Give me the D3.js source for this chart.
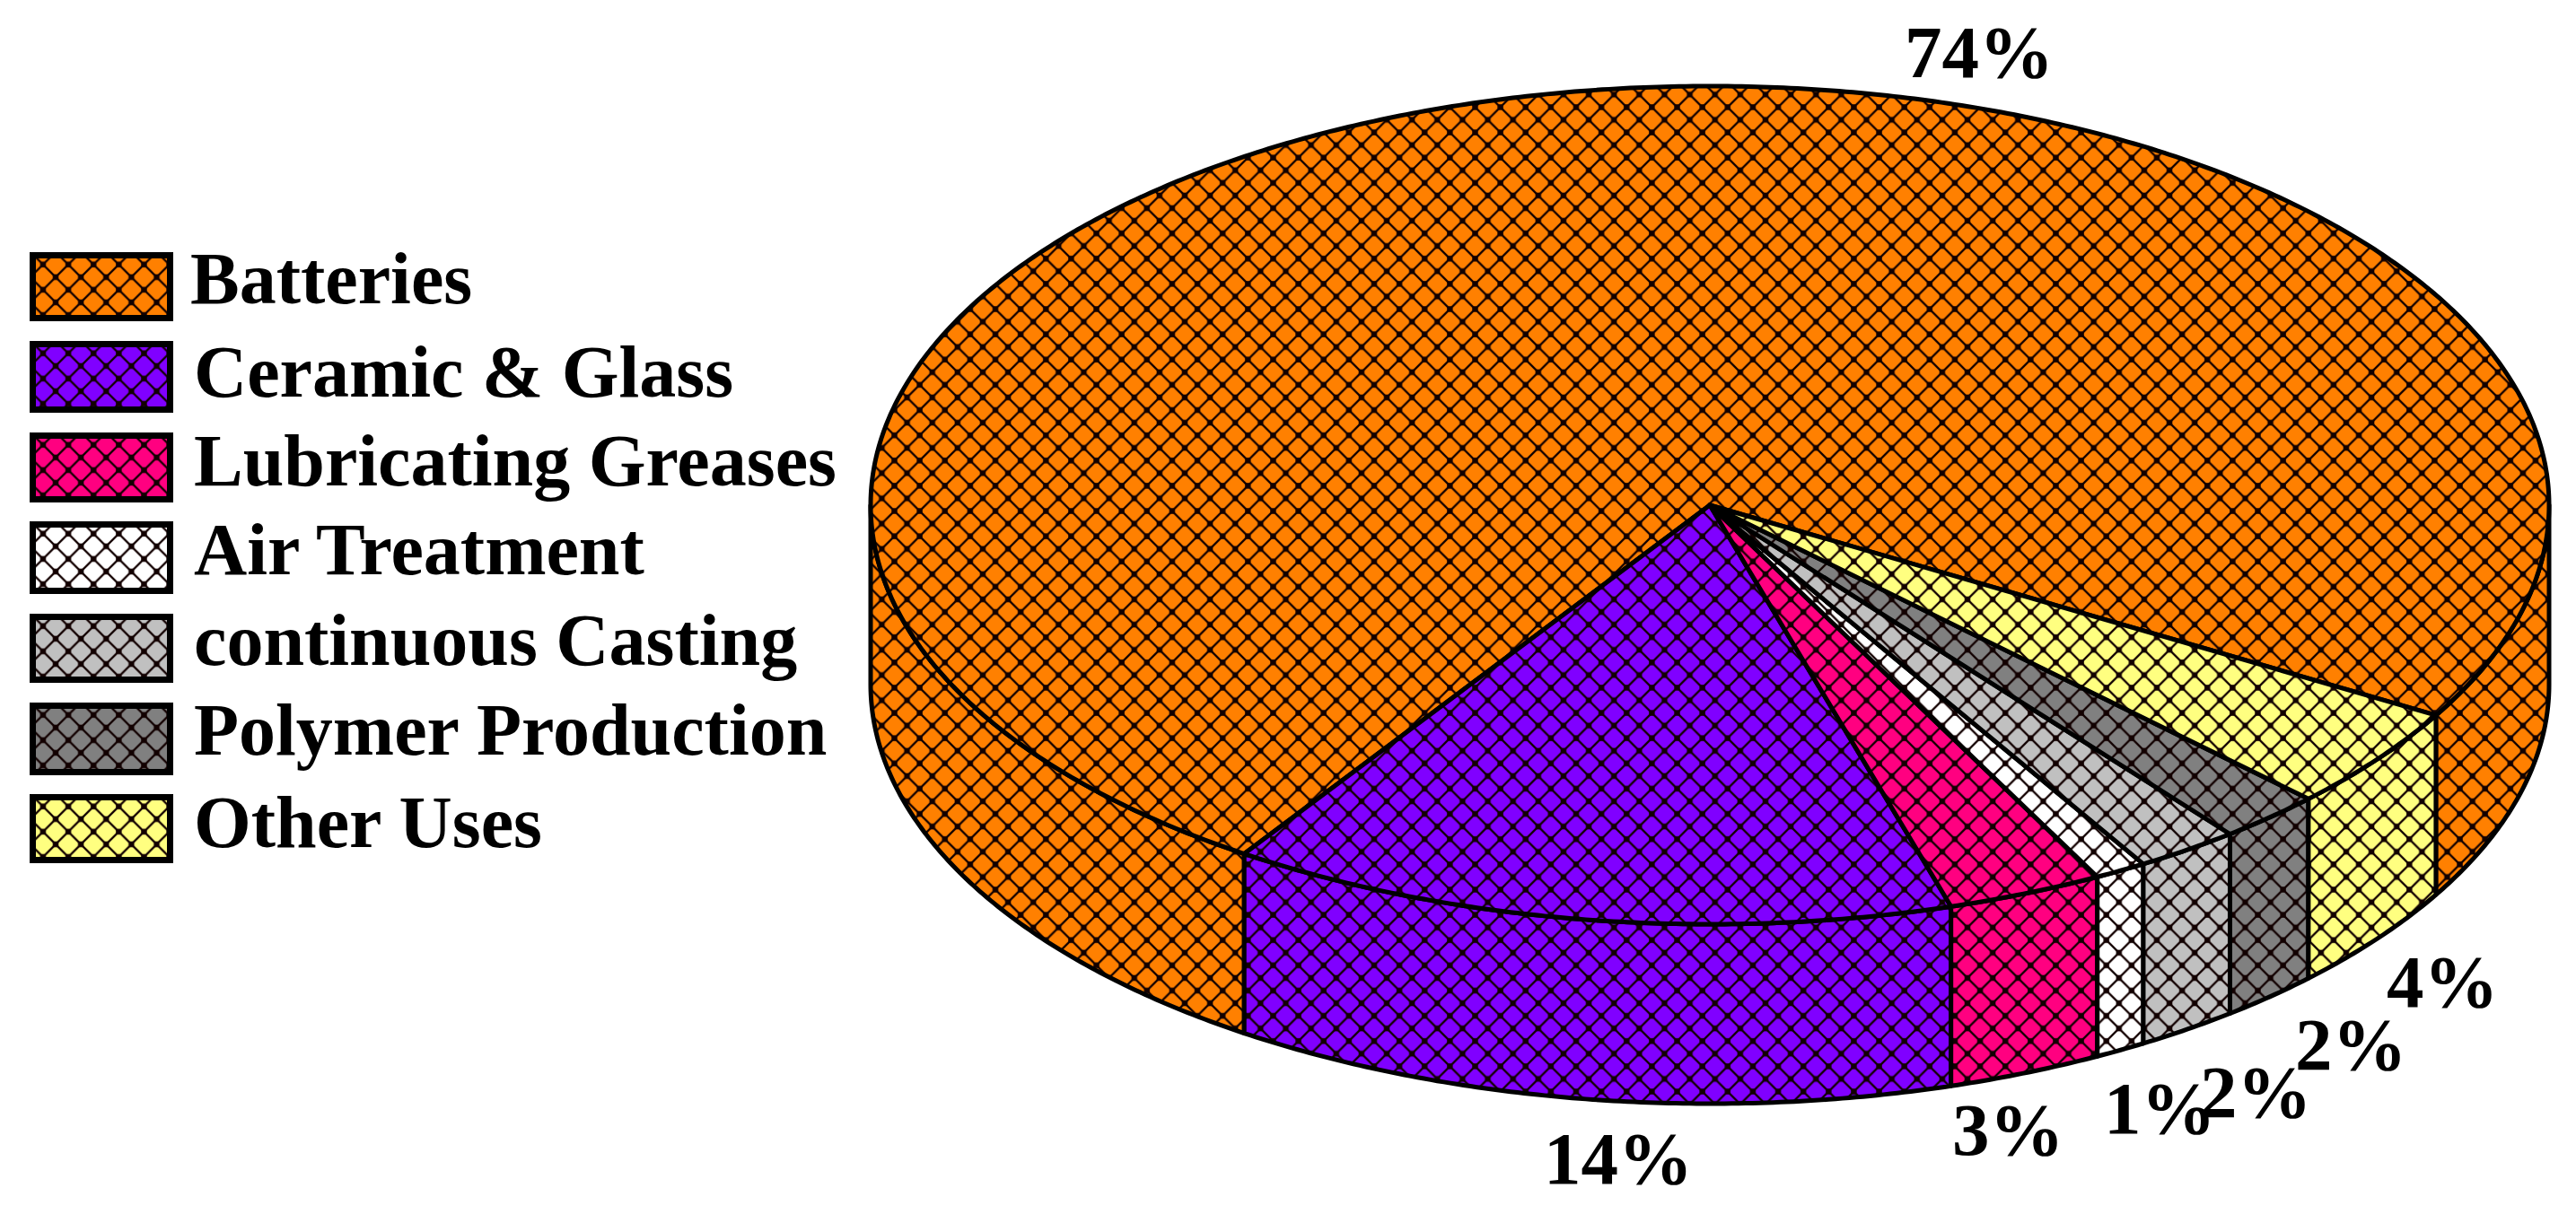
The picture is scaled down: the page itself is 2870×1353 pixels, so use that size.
<!DOCTYPE html>
<html>
<head>
<meta charset="utf-8">
<script src="https://cdn.jsdelivr.net/npm/d3@7"></script>
<style>
    html, body { margin: 0; padding: 0; background: #fff; }
    svg { display: block; }
    text { font-family: "Liberation Serif", serif; font-weight: bold; fill: #000; }
</style>
</head>
<body>
<svg id="chart" width="2870" height="1353"></svg>
<script>
//data
var categories = ["Batteries", "Ceramic & Glass", "Lubricating Greases", "Air Treatment",
    "continuous Casting", "Polymer Production", "Other Uses"];
var shares = [74, 14, 3, 1, 2, 2, 4];
var colors = ["#ff8000", "#8000ff", "#ff0080", "#ffffff", "#c0c0c0", "#808080", "#ffff80"];

//layout
var cx = 1905, cy = 563, rx = 935, ry = 467, depth = 200;
var startDeg = 120.1;
var hatchSize = 28.13;
var legendTop = [281, 380, 482, 581, 684, 783, 885];
var legendBottom = [358, 460, 560, 662, 761, 864, 962];
var legendBase = [338, 442, 541, 640, 741, 841, 944];
var legendX = [212, 216, 216, 216, 216, 216, 216];
var labelX = [2122, 1720, 2175, 2344, 2451, 2557, 2659];
var labelY = [86, 1319, 1287, 1263, 1245, 1192, 1122];

var svg = d3.select("#chart");
var defs = svg.append("defs");

//diamond hatch with a dark knot on every crossing
function hatch(id, color, dx, dy) {
    var s = hatchSize;
    var p = defs.append("pattern")
        .attr("id", id)
        .attr("patternUnits", "userSpaceOnUse")
        .attr("width", s)
        .attr("height", s)
        .attr("patternTransform", "translate(" + dx + "," + dy + ")");
    p.append("rect").attr("width", s).attr("height", s).attr("fill", color);
    p.append("path")
        .attr("d", "M0,0L" + s + "," + s + "M" + s + ",0L0," + s)
        .attr("stroke", "#120000")
        .attr("stroke-width", 2.3)
        .attr("fill", "none");
    [[0, 0], [s, 0], [0, s], [s, s], [s / 2, s / 2]].forEach(function(k) {
        p.append("rect")
            .attr("x", k[0] - 3.2).attr("y", k[1] - 3.2)
            .attr("width", 6.4).attr("height", 6.4)
            .attr("fill", "#120000");
    });
}

colors.forEach(function(c, i) {
    hatch("pie" + i, c, 26, 21);
    hatch("leg" + i, c, 62, legendTop[i] + 56);
});

//angles from the library, running counter clockwise from the Batteries edge
var start = startDeg * Math.PI / 180;
var arcs = d3.pie()
    .sort(null)
    .startAngle(start)
    .endAngle(start - 2 * Math.PI)(shares);

var line = d3.line();

function point(a, dy) {
    return [cx + rx * Math.sin(a), cy - ry * Math.cos(a) + (dy || 0)];
}

function samples(a0, a1, dy) {
    var n = Math.max(2, Math.ceil(Math.abs(a1 - a0) * 120));
    return d3.range(n + 1).map(function(i) {
        return point(a0 + (a1 - a0) * i / n, dy);
    });
}

//only the front half of the rim can be seen
function frontParts(d) {
    var lo = Math.min(d.startAngle, d.endAngle);
    var hi = Math.max(d.startAngle, d.endAngle);
    var parts = [];
    [-1, 0, 1].forEach(function(k) {
        var a = Math.PI / 2 + k * 2 * Math.PI;
        var b = 3 * Math.PI / 2 + k * 2 * Math.PI;
        if (Math.max(lo, a) < Math.min(hi, b)) {
            parts.push([Math.max(lo, a), Math.min(hi, b)]);
        }
    });
    return parts;
}

//rim first, top faces over it
var rim = svg.append("g").attr("class", "rim");
arcs.forEach(function(d, i) {
    frontParts(d).forEach(function(part) {
        var pts = samples(part[0], part[1], 0).concat(samples(part[1], part[0], depth));
        rim.append("path")
            .attr("d", line(pts) + "Z")
            .attr("fill", "url(#pie" + i + ")")
            .attr("stroke", "#000")
            .attr("stroke-width", 5)
            .attr("stroke-linejoin", "round");
    });
});

var top_ = svg.append("g").attr("class", "top");
top_.selectAll("path")
    .data(arcs)
    .enter()
    .append("path")
    .attr("d", function(d) {
        return line([[cx, cy]].concat(samples(d.startAngle, d.endAngle, 0))) + "Z";
    })
    .attr("fill", function(d, i) { return "url(#pie" + i + ")"; })
    .attr("stroke", "#000")
    .attr("stroke-width", 5)
    .attr("stroke-linejoin", "round");

//percent labels
svg.append("g").attr("class", "labels")
    .selectAll("text")
    .data(shares)
    .enter()
    .append("text")
    .attr("x", function(d, i) { return labelX[i]; })
    .attr("y", function(d, i) { return labelY[i]; })
    .attr("font-size", 83)
    .text(function(d) { return d + "%"; });

//legend
var legend = svg.append("g").attr("class", "legend");
categories.forEach(function(name, i) {
    legend.append("rect")
        .attr("x", 36.5)
        .attr("y", legendTop[i] + 3.5)
        .attr("width", 153)
        .attr("height", legendBottom[i] - legendTop[i] - 7)
        .attr("fill", "url(#leg" + i + ")")
        .attr("stroke", "#000")
        .attr("stroke-width", 7);
    legend.append("text")
        .attr("x", legendX[i])
        .attr("y", legendBase[i])
        .attr("font-size", 82)
        .text(name);
});
</script>
</body>
</html>
